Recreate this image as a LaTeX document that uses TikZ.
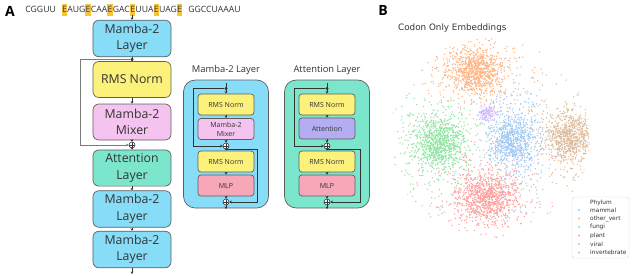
\documentclass[tikz,border=0pt]{standalone}
\usepackage{fontspec}
\setmainfont{Open Sans}
\newfontfamily\plotfont{DejaVu Sans}
\usepackage{xcolor}
\usepackage{tikz}
\usetikzlibrary{positioning,arrows.meta}
\definecolor{mambac}{HTML}{87DCF8}
\definecolor{rmsc}{HTML}{FBF17B}
\definecolor{mixerc}{HTML}{F5C3EF}
\definecolor{attnc}{HTML}{7CE6CD}
\definecolor{attinc}{HTML}{B4ADF2}
\definecolor{mlpc}{HTML}{F6A7B8}
\definecolor{edgec}{HTML}{5F5F5F}
\definecolor{txtc}{HTML}{333333}
\definecolor{skipc}{HTML}{7A7A7A}
\definecolor{hlc}{HTML}{F8C53A}
\definecolor{mammalc}{HTML}{A1C9F4}
\definecolor{othervc}{HTML}{FFB482}
\definecolor{fungic}{HTML}{8DE5A1}
\definecolor{plantc}{HTML}{FF9F9B}
\definecolor{viralc}{HTML}{D0BBFF}
\definecolor{invertc}{HTML}{DEBB9B}
\tikzset{
    block/.style={draw=edgec, line width=0.6pt, text=txtc, align=center},
    big block/.style={block, rounded corners=5pt, minimum width=2.34cm, minimum height=1.08cm, font=\fontsize{10.5}{14}\selectfont},
    small block/.style={block, rounded corners=2.5pt, inner sep=1pt, minimum width=1.68cm, minimum height=0.63cm, font=\fontsize{6}{7.5}\selectfont},
    panel/.style={draw=edgec, line width=0.6pt, rounded corners=10pt, minimum width=2.55cm, minimum height=3.84cm},
    panel title/.style={text=txtc, font=\fontsize{8}{9}\selectfont},
    flow/.style={draw=txtc, line width=0.6pt, -{Stealth[length=2.2pt,width=2.4pt]}},
    inner skip/.style={draw=txtc, line width=0.8pt, -{Stealth[length=2.2pt,width=2.4pt]}},
    main skip/.style={draw=skipc, line width=0.8pt, -{Stealth[length=2.2pt,width=2.4pt]}},
    addop/.style={circle, draw=txtc, fill=white, line width=0.5pt, inner sep=0pt, minimum size=0.18cm,
        path picture={\draw[txtc, line width=0.4pt] (path picture bounding box.north) -- (path picture bounding box.south)
            (path picture bounding box.west) -- (path picture bounding box.east);}},
    split dot/.style={circle, fill=txtc, inner sep=0pt, minimum size=0.1cm},
    panel label/.style={font=\fontsize{12}{12}\bfseries\selectfont, text=black},
    legend text/.style={font=\plotfont\fontsize{5}{5}\selectfont, text=txtc, inner sep=0pt}
}
\newcommand{\hlE}{{\setlength{\fboxsep}{0.3pt}\colorbox{hlc}{\strut E}}}

\begin{document}
\begin{tikzpicture}[x=0.03cm, y=-0.03cm]
    \useasboundingbox (0,0) rectangle (640,275);

    % Panel A: sequence and main stack
    \node[panel label] (labA) at (10,11) {A};
    \node[text=txtc, font=\fontsize{7.4}{9.5}\selectfont, inner sep=0pt] (seq) at (133,10)
        {CGGUU\hspace{5pt}\hlE AUG\hlE CAA\hlE GAC\hlE UUA\hlE UAG\hlE\hspace{5pt}GGCCUAAAU};

    \node[big block, fill=mambac] (m1) at (132,38.5) {Mamba-2\\Layer};
    \node[big block, fill=rmsc] (rms0) at (132,79.5) {RMS Norm};
    \node[big block, fill=mixerc] (mix0) at (132,122) {Mamba-2\\Mixer};
    \node[addop] (add0) at (132,145) {};
    \node[big block, fill=attnc] (att0) at (132,168) {Attention\\Layer};
    \node[big block, fill=mambac] (m2) at (132,209) {Mamba-2\\Layer};
    \node[big block, fill=mambac] (m3) at (132,249.5) {Mamba-2\\Layer};
    \coordinate (in0) at (132,15);
    \coordinate (out0) at (132,274);

    \draw[flow] (in0) -- (m1);
    \draw[flow] (m1) -- (rms0);
    \node[split dot] (dot0) at (132,59.5) {};
    \draw[flow] (rms0) -- (mix0);
    \draw[flow] (mix0) -- (add0);
    \draw[flow] (add0) -- (att0);
    \draw[flow] (att0) -- (m2);
    \draw[flow] (m2) -- (m3);
    \draw[flow] (m3) -- (out0);
    \draw[main skip] (dot0) -- ++(-52,0) |- (add0);

    % Mamba-2 layer detail
    \node[panel, fill=mambac] (mpanel) at (226,144) {};
    \node[panel title, above=0.02cm of mpanel] (mtitle) {Mamba-2 Layer};
    \coordinate (min) at (226,83);
    \node[small block, fill=rmsc] (mrms1) at (226,104.5) {RMS Norm};
    \node[small block, fill=mixerc] (mmix) at (226,129) {Mamba-2\\Mixer};
    \node[addop] (madd1) at (226,146) {};
    \node[small block, fill=rmsc] (mrms2) at (226,161.5) {RMS Norm};
    \node[small block, fill=mlpc] (mmlp) at (226,185.5) {MLP};
    \node[addop] (madd2) at (226,202) {};
    \coordinate (mout) at (226,209);
    \coordinate (mbr) at (226,149.5);

    \draw[flow] (min) -- (mrms1);
    \node[split dot] (mdot) at (226,88.5) {};
    \draw[flow] (mrms1) -- (mmix);
    \draw[flow] (mmix) -- (madd1);
    \draw[flow] (madd1) -- (mrms2);
    \draw[flow] (mrms2) -- (mmlp);
    \draw[flow] (mmlp) -- (madd2);
    \draw[flow] (madd2) -- (mout);
    \draw[inner skip] (mdot) -- ++(-33,0) |- (madd1);
    \draw[inner skip] (mbr) -- ++(31,0) |- (madd2);

    % Attention layer detail
    \node[panel, fill=attnc] (apanel) at (327,144) {};
    \node[panel title, above=0.02cm of apanel] (atitle) {Attention Layer};
    \coordinate (ain) at (327,83);
    \node[small block, fill=rmsc] (arms1) at (327,104.5) {RMS Norm};
    \node[small block, fill=attinc] (aatt) at (327,128.5) {Attention};
    \node[addop] (aadd1) at (327,146) {};
    \node[small block, fill=rmsc] (arms2) at (327,161.5) {RMS Norm};
    \node[small block, fill=mlpc] (amlp) at (327,185.5) {MLP};
    \node[addop] (aadd2) at (327,202) {};
    \coordinate (aout) at (327,209);
    \coordinate (abr) at (327,149.5);

    \draw[flow] (ain) -- (arms1);
    \node[split dot] (adot) at (327,88.5) {};
    \draw[flow] (arms1) -- (aatt);
    \draw[flow] (aatt) -- (aadd1);
    \draw[flow] (aadd1) -- (arms2);
    \draw[flow] (arms2) -- (amlp);
    \draw[flow] (amlp) -- (aadd2);
    \draw[flow] (aadd2) -- (aout);
    \draw[inner skip] (adot) -- ++(-33,0) |- (aadd1);
    \draw[inner skip] (abr) -- ++(33,0) |- (aadd2);

    % Panel B: embedding scatter
    \node[panel label] (labB) at (383,10) {B};
    \node[anchor=west, inner sep=0pt, text=txtc, font=\plotfont\fontsize{7.5}{8}\selectfont] (btitle) at (398,28) {Codon Only Embeddings};

    \pgfmathsetseed{1234}
    \begin{scope}
        \clip (490,138) circle (100);
        \foreach \col/\cx/\cy/\n/\sx/\sy in {
            othervc/476/72/320/26/22, fungic/440/142/320/26/28, plantc/486/198/320/28/24,
            invertc/569/138/280/22/24, mammalc/515/140/380/15/32,
            othervc/476/71/750/13/11, fungic/440/142/800/13/14, plantc/486/198/800/14/12,
            invertc/569/138/650/11/13, mammalc/512/141/650/11/12, viralc/487/113/140/4/4}{
            \foreach \i in {1,...,\n}{
                \pgfmathsetmacro\rr{sqrt(-2*ln(max(rnd,0.0002)))}
                \pgfmathsetmacro\aa{360*rnd}
                \fill[\col] ({\cx+\sx*\rr*cos(\aa)},{\cy+\sy*\rr*sin(\aa)}) circle (0.75);
            }
        }
    \end{scope}

    % legend
    \node[draw=black!15, fill=white, rounded corners=1.5pt, line width=0.4pt, minimum width=1.71cm, minimum height=1.83cm] (legbox) at (600.5,227.5) {};
    \node[legend text] (legtitle) at (601,202.5) {Phylum};
    \foreach \name/\col [count=\k] in {mammal/mammalc, other\_vert/othervc, fungi/fungic,
        plant/plantc, viral/viralc, invertebrate/invertc}{
        \fill[\col] (579,201.5+8.5*\k) circle (1.2);
        \node[legend text, anchor=west] (leg\k) at (590,201.5+8.5*\k) {\name};
    }
\end{tikzpicture}
\end{document}
